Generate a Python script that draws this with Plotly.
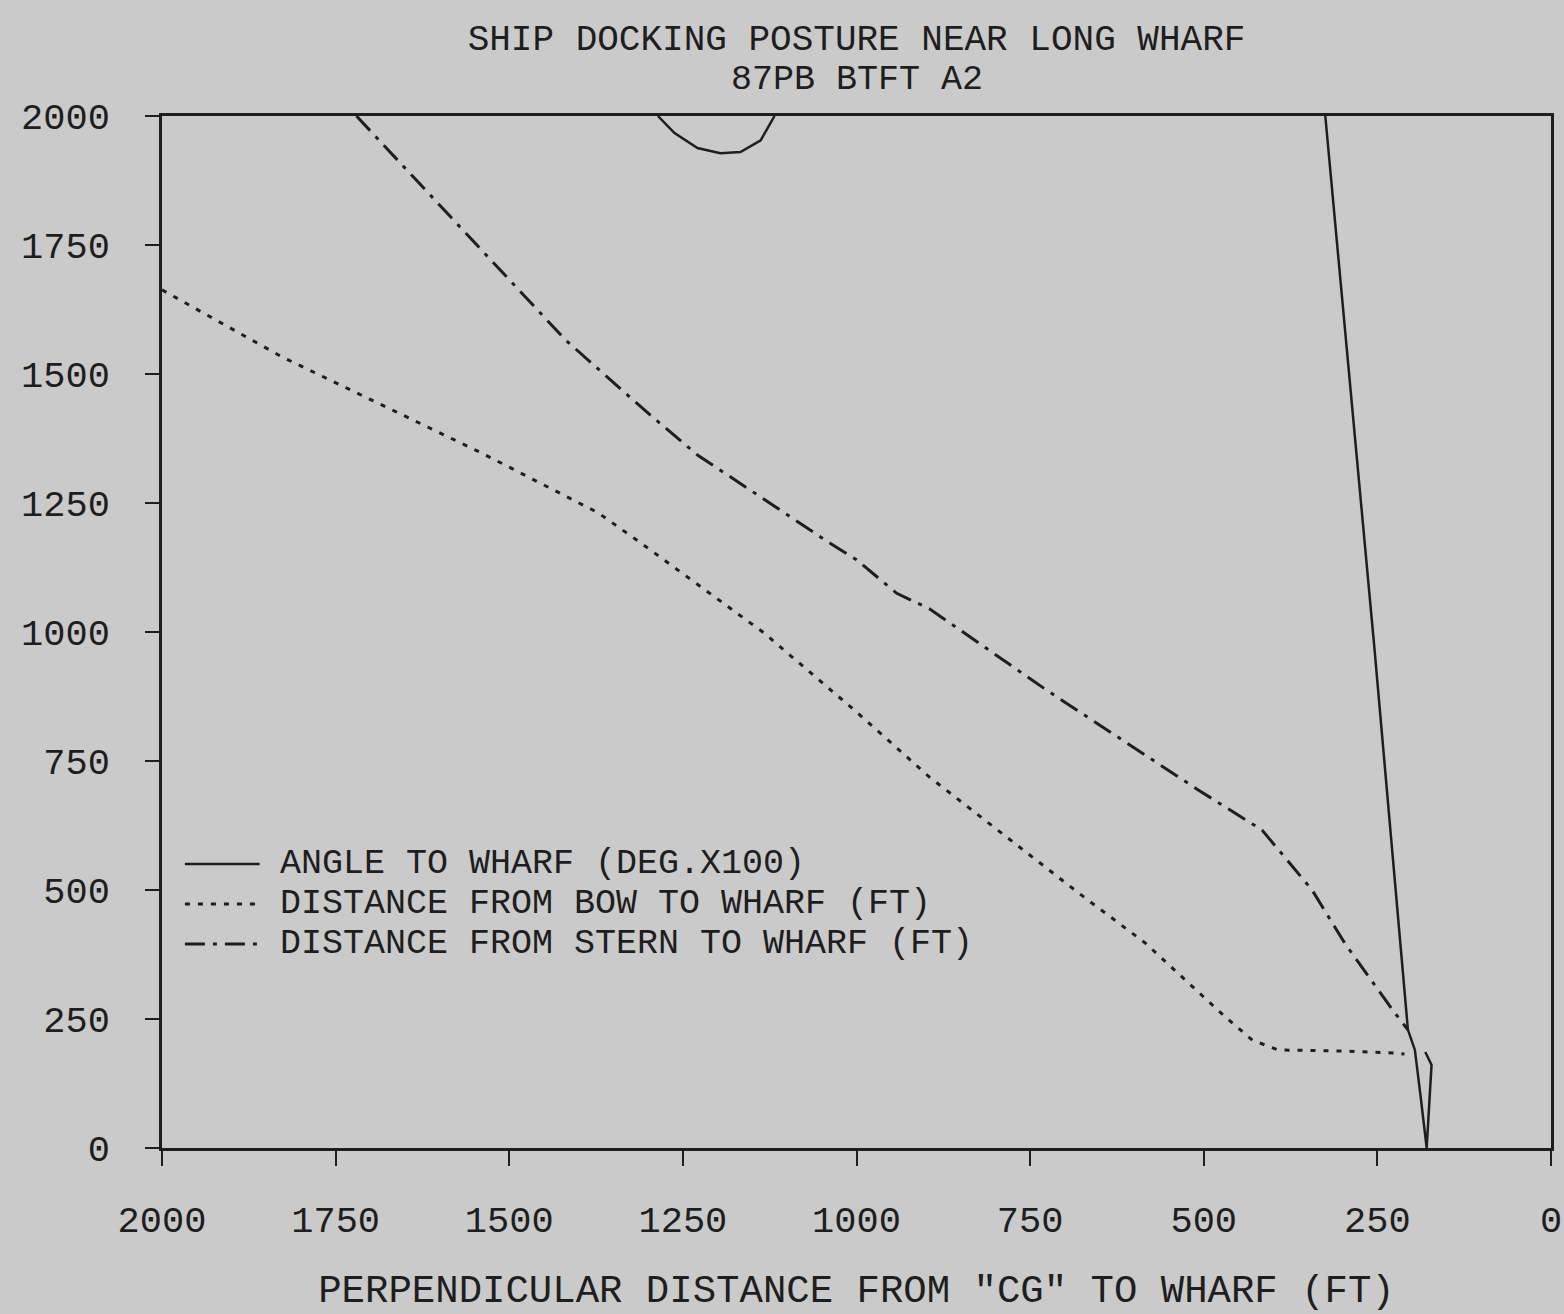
import plotly.graph_objects as go

# Perpendicular distance from CG to wharf (ft) and the measured quantities
angle_x = [1286, 1262, 1229, 1196, 1167, 1138, 1118, None,
           325, 254, 206, 196, 188, 179, 175, 172, 181]
angle_y = [2000, 1967, 1938, 1928, 1930, 1953, 2000, None,
           2000, 965, 229, 190, 103, 0, 93, 161, 186]

bow_x = [2000, 1827, 1540, 1372, 1310, 1133, 1000, 895, 680, 584, 469, 430, 393, 300, 225, 211]
bow_y = [1663, 1533, 1347, 1231, 1172, 998, 845, 719, 494, 397, 254, 209, 190, 188, 184, 182]

stern_x = [1720, 1540, 1419, 1300, 1229, 1038, 1000, 942, 895, 727, 655, 508, 416, 344, 297, 225, 206]
stern_y = [2000, 1740, 1566, 1424, 1343, 1172, 1140, 1075, 1045, 888, 824, 694, 616, 500, 397, 262, 229]

tick_vals = [0, 250, 500, 750, 1000, 1250, 1500, 1750, 2000]
tick_text = [str(v) for v in tick_vals]

series_names = [
    "ANGLE TO WHARF (DEG.X100)",
    "DISTANCE FROM BOW TO WHARF (FT)",
    "DISTANCE FROM STERN TO WHARF (FT)",
]

FONT = "Liberation Mono, DejaVu Sans Mono, monospace"
INK = "#1e1e1e"
PAPER = "#cacaca"

styles = [
    dict(color=INK, width=2.5, dash="solid"),
    dict(color=INK, width=3, dash="5px,8px"),
    dict(color=INK, width=3, dash="20px,8px,4px,8px"),
]

fig = go.Figure()
for xs, ys, name, st in zip([angle_x, bow_x, stern_x], [angle_y, bow_y, stern_y],
                            series_names, styles):
    fig.add_trace(go.Scatter(x=xs, y=ys, mode="lines", name=name,
                             line=st, connectgaps=False, showlegend=False))

# Key drawn inside the plot: line sample + label per series
key_rows_y = [0.2752, 0.2364, 0.1977]
for name, st, yk in zip(series_names, styles, key_rows_y):
    fig.add_shape(type="line", xref="paper", yref="paper",
                  x0=0.0165, x1=0.0703, y0=yk, y1=yk, line=st)
    fig.add_annotation(text=name, xref="paper", yref="paper",
                       x=0.0832, y=yk, xanchor="left", yanchor="middle",
                       showarrow=False, font=dict(family=FONT, size=35, color=INK))

# Second title line
fig.add_annotation(text="87PB BTFT A2", xref="paper", yref="paper",
                   x=0.5, y=1 + (116 - 80) / 1032, xanchor="center", yanchor="middle",
                   showarrow=False, font=dict(family=FONT, size=35, color=INK))

fig.update_layout(
    width=1564, height=1314,
    margin=dict(l=162, r=13, t=116, b=166, autoexpand=False),
    paper_bgcolor=PAPER, plot_bgcolor=PAPER,
    font=dict(family=FONT, size=37, color=INK),
    title=dict(
        text="SHIP DOCKING POSTURE NEAR LONG WHARF",
        font=dict(family=FONT, size=36, color=INK),
        x=0.5, xref="paper", xanchor="center",
        y=1 - 37 / 1314, yref="container", yanchor="middle",
    ),
    showlegend=False,
)

fig.update_xaxes(
    range=[2000, 0], tickvals=tick_vals, ticktext=tick_text,
    showgrid=False, zeroline=False, automargin=False,
    showline=True, linecolor=INK, linewidth=2.5, mirror=True,
    ticks="outside", ticklen=15, tickwidth=2, tickcolor=INK,
    ticklabelstandoff=22, ticklabeloverflow="allow",
    title=dict(text='PERPENDICULAR DISTANCE FROM "CG" TO WHARF (FT)',
               font=dict(family=FONT, size=39, color=INK), standoff=36),
)
fig.update_yaxes(
    range=[0, 2000], tickvals=tick_vals, ticktext=tick_text,
    showgrid=False, zeroline=False, automargin=False,
    showline=True, linecolor=INK, linewidth=2.5, mirror=True,
    ticks="outside", ticklen=14, tickwidth=2, tickcolor=INK,
    ticklabelstandoff=28, ticklabeloverflow="allow",
)

fig.write_html("out.html")
